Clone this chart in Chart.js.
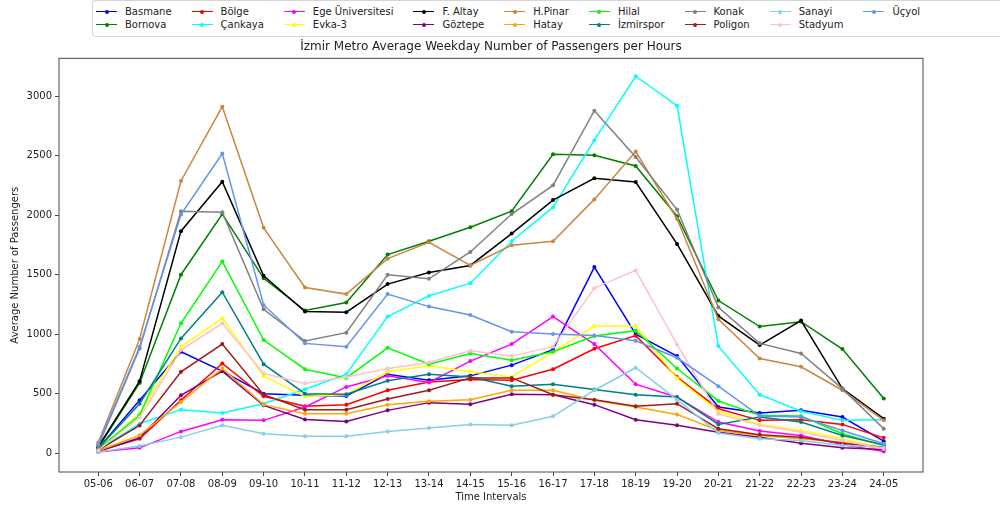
<!DOCTYPE html>
<html>
<head>
<meta charset="utf-8">
<script src="https://cdn.jsdelivr.net/npm/chart.js@4.4.1/dist/chart.umd.min.js"></script>
<style>
  html, body { margin: 0; padding: 0; background: #fff; overflow: hidden; }
  #wrap { position: relative; width: 1000px; height: 506px; }
  #legend {
    position: absolute; left: 92px; top: 0; width: 940px; height: 37px;
    border: 1px solid #d4d4d4; border-radius: 3px; box-sizing: border-box;
    padding: 4px 0 0 3px; background: #fff;
    display: grid; grid-auto-flow: column; grid-template-rows: 13px 13px;
    column-gap: 20px; justify-content: start;
    font: 10px "DejaVu Sans", sans-serif; color: #222;
  }
  .item { display: flex; align-items: center; white-space: nowrap; }
  .handle { position: relative; width: 21px; height: 10px; margin-right: 8px; }
  .handle .ln { position: absolute; left: 0; right: 0; top: 4px; height: 1.5px; }
  .handle .dot { position: absolute; left: 8.5px; top: 3px; width: 4px; height: 4px; border-radius: 50%; }
</style>
</head>
<body>
<div id="wrap">
  <canvas id="chart" width="1000" height="506"></canvas>
  <div id="legend"></div>
</div>
<script>
// time slots on the x axis
const timeLabels = ["05-06", "06-07", "07-08", "08-09", "09-10", "10-11", "11-12", "12-13", "13-14", "14-15",
  "15-16", "16-17", "17-18", "18-19", "19-20", "20-21", "21-22", "22-23", "23-24", "24-05"];
const yTicks = [0, 500, 1000, 1500, 2000, 2500, 3000];

// average weekday passengers per station
const basmane   = [40, 445, 853, 690, 500, 487, 481, 664, 613, 650, 740, 870, 1564, 1000, 816, 388, 338, 360, 304, 101];
const bornova   = [45, 590, 1500, 2010, 1470, 1199, 1266, 1669, 1781, 1899, 2034, 2513, 2504, 2414, 1992, 1283, 1064, 1105, 875, 459];
const bolge     = [20, 121, 445, 754, 478, 394, 408, 529, 599, 619, 613, 706, 878, 988, 640, 374, 276, 281, 242, 129];
const cankaya   = [30, 248, 366, 338, 416, 537, 664, 1148, 1322, 1429, 1781, 2068, 2631, 3168, 2921, 900, 492, 352, 276, 281];
const egeUni    = [10, 45, 183, 281, 276, 388, 557, 650, 594, 774, 917, 1148, 917, 580, 470, 262, 186, 149, 73, 14];
const evka3     = [30, 332, 895, 1134, 647, 478, 492, 684, 734, 684, 641, 850, 1069, 1069, 630, 352, 242, 191, 121, 42];
const fAltay    = [55, 605, 1866, 2282, 1491, 1190, 1185, 1421, 1519, 1578, 1846, 2127, 2310, 2279, 1759, 1154, 909, 1115, 543, 290];
const goztepe   = [15, 130, 487, 690, 402, 284, 267, 360, 425, 411, 495, 492, 408, 281, 234, 177, 135, 84, 45, 31];
const hPinar    = [90, 960, 2288, 2912, 1894, 1393, 1337, 1635, 1773, 1578, 1747, 1781, 2133, 2535, 1970, 1126, 796, 726, 529, 276];
const hatay     = [20, 150, 430, 712, 408, 332, 332, 408, 436, 450, 529, 529, 445, 388, 326, 191, 149, 121, 93, 37];
const hilal     = [35, 318, 1092, 1612, 951, 706, 633, 886, 748, 838, 782, 853, 985, 1030, 712, 439, 318, 312, 163, 65];
const izmirspor = [40, 416, 965, 1353, 748, 500, 495, 608, 664, 641, 563, 580, 535, 492, 473, 242, 304, 262, 149, 70];
const konak     = [60, 880, 2034, 2025, 1210, 943, 1013, 1500, 1466, 1691, 2010, 2251, 2878, 2490, 2048, 1227, 923, 838, 543, 205];
const poligon   = [25, 233, 684, 917, 492, 366, 366, 456, 529, 633, 633, 492, 450, 394, 416, 205, 155, 135, 84, 51];
const sanayi    = [10, 60, 135, 234, 163, 143, 143, 183, 211, 242, 234, 310, 529, 718, 450, 169, 121, 107, 65, 51];
const stadyum   = [25, 300, 867, 1092, 670, 585, 641, 712, 762, 861, 816, 895, 1387, 1536, 914, 330, 234, 177, 107, 37];
const ucyol     = [75, 895, 2006, 2518, 1246, 923, 895, 1337, 1232, 1162, 1021, 1002, 990, 945, 802, 563, 312, 304, 191, 79];

const stations = ["Basmane", "Bornova", "Bölge", "Çankaya", "Ege Üniversitesi", "Evka-3", "F. Altay", "Göztepe",
  "H.Pinar", "Hatay", "Hilal", "İzmirspor", "Konak", "Poligon", "Sanayi", "Stadyum", "Üçyol"];
const stationValues = [basmane, bornova, bolge, cankaya, egeUni, evka3, fAltay, goztepe,
  hPinar, hatay, hilal, izmirspor, konak, poligon, sanayi, stadyum, ucyol];
const lineColors = ["#0000ff", "#008000", "#ff0000", "#00ffff", "#ff00ff", "#ffff00", "#000000", "#800080",
  "#cd853f", "#ffa500", "#00ff00", "#008080", "#808080", "#a01c1c", "#87ceeb", "#ffc0cb", "#6495ed"];

const datasets = stations.map((name, i) => ({
  label: name,
  data: stationValues[i].map((v, k) => ({ x: k, y: v })),
  borderColor: lineColors[i],
  backgroundColor: lineColors[i],
  borderWidth: 1.5,
  pointRadius: 2,
  pointBorderWidth: 0,
  tension: 0,
  order: stations.length - i, // later series on top, like matplotlib
}));

const axisFont = { family: "DejaVu Sans", size: 10 };

// box around the plot area
const frame = {
  id: "frame",
  afterDatasetsDraw(chart) {
    const { ctx, chartArea: a } = chart;
    ctx.save();
    ctx.strokeStyle = "#666";
    ctx.lineWidth = 1.2;
    ctx.strokeRect(a.left, a.top, a.right - a.left, a.bottom - a.top);
    ctx.restore();
  },
};

const chart = new Chart("chart", {
  type: "line",
  data: { datasets: datasets },
  plugins: [frame],
  options: {
    responsive: false,
    animation: false,
    layout: { padding: { left: 0, right: 77, top: 0, bottom: 0 } },
    plugins: {
      legend: { display: false },
      tooltip: { enabled: false },
      title: {
        display: true,
        fullSize: false,
        text: "İzmir Metro Average Weekday Number of Passengers per Hours",
        color: "#222",
        font: { family: "DejaVu Sans", size: 12, weight: "normal" },
        padding: { top: 40, bottom: 4 },
      },
    },
    scales: {
      x: {
        type: "linear",
        min: -0.95,
        max: timeLabels.length - 1 + 0.95,
        afterBuildTicks: (scale) => { scale.ticks = timeLabels.map((_, i) => ({ value: i })); },
        afterFit: (scale) => { scale.height = 34; },
        ticks: {
          autoSkip: false, maxRotation: 0, padding: 2, color: "#222", font: axisFont,
          callback: (v) => timeLabels[v],
        },
        grid: { drawOnChartArea: false, drawTicks: true, tickLength: 4, color: "#444" },
        border: { display: false },
        title: { display: true, text: "Time Intervals", color: "#222", font: axisFont, padding: { top: 0, bottom: 3 } },
      },
      y: {
        min: -158,
        max: 3318,
        afterBuildTicks: (scale) => { scale.ticks = yTicks.map((v) => ({ value: v })); },
        afterFit: (scale) => { scale.width = 59; },
        ticks: { padding: 3, color: "#222", font: axisFont, callback: (v) => String(v) },
        grid: { drawOnChartArea: false, drawTicks: true, tickLength: 4, color: "#444" },
        border: { display: false },
        title: { display: true, text: "Average Number of Passengers", color: "#222", font: axisFont, padding: { top: 9, bottom: 0 } },
      },
    },
  },
});

// matplotlib-style legend: 2 rows, filled column by column
const legendBox = document.getElementById("legend");
chart.data.datasets.forEach((ds) => {
  const item = document.createElement("div");
  item.className = "item";
  const handle = document.createElement("span");
  handle.className = "handle";
  const ln = document.createElement("span");
  ln.className = "ln";
  ln.style.background = ds.borderColor;
  const dot = document.createElement("span");
  dot.className = "dot";
  dot.style.background = ds.borderColor;
  handle.appendChild(ln);
  handle.appendChild(dot);
  const txt = document.createElement("span");
  txt.textContent = ds.label;
  item.appendChild(handle);
  item.appendChild(txt);
  legendBox.appendChild(item);
});
</script>
</body>
</html>
